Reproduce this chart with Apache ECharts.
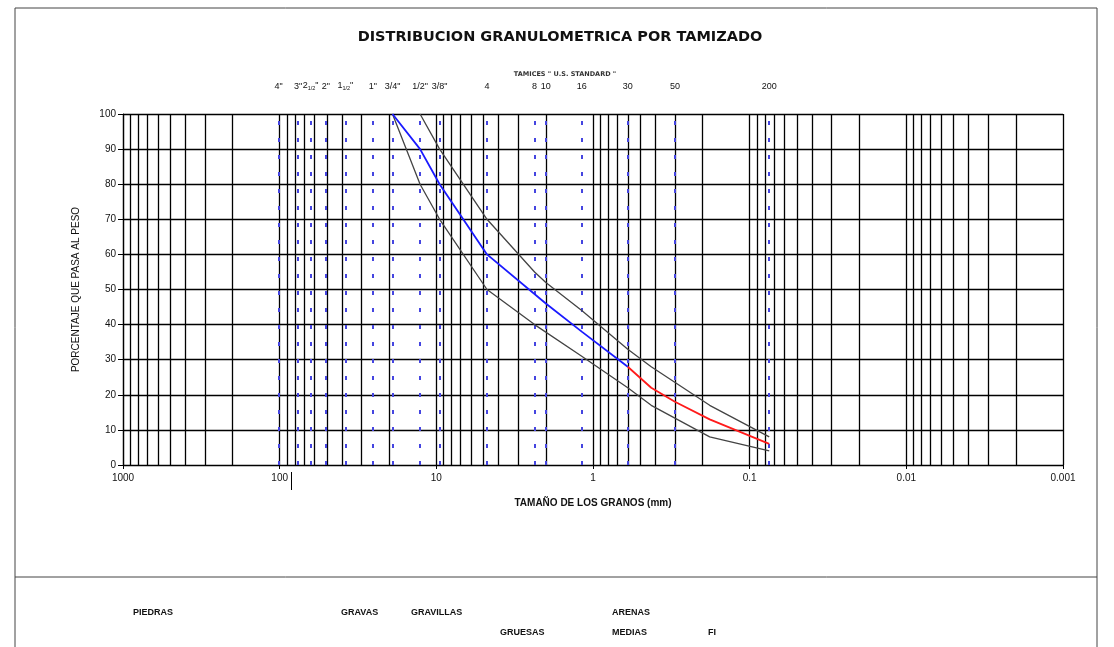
<!DOCTYPE html>
<html>
<head>
<meta charset="utf-8">
<title>Distribucion granulometrica por tamizado</title>
<script src="https://cdn.jsdelivr.net/npm/echarts@6/dist/echarts.min.js"></script>
<style>
  html, body { margin: 0; padding: 0; background: #fff; }
  #chart { width: 1114px; height: 647px; }
</style>
</head>
<body>
<div id="chart"></div>
<script>
// tamices U.S. standard (abertura en mm) y su nombre
const tamizMm = [101.6, 76.2, 63.5, 50.8, 38.1, 25.4, 19.05, 12.7, 9.525, 4.75, 2.36, 2.0, 1.18, 0.6, 0.3, 0.075]
const tamizNombre = ['4"', '3"', '2{f|1/2}"', '2"', '1{f|1/2}"', '1"', '3/4"', '1/2"', '3/8"', '4', '8', '10', '16', '30', '50', '200']

// curva de la muestra (azul hasta el tamiz 30, roja despues)
const muestraMm = [19.05, 12.7, 9.525, 4.75, 2.0, 1.18, 0.6, 0.425, 0.3, 0.18, 0.075]
const muestraPasa = [100, 90, 80, 60, 46, 38, 28, 22, 18, 13, 6]
const corte = 6

// limites de la especificacion
const superiorMm = [12.7, 9.525, 4.75, 2.36, 2.0, 1.18, 0.6, 0.425, 0.18, 0.075]
const superiorPasa = [100, 90, 70, 55, 52, 44, 33, 28, 17, 8]
const inferiorMm = [19.05, 12.7, 9.525, 4.75, 2.36, 1.18, 0.6, 0.425, 0.18, 0.075]
const inferiorPasa = [100, 80, 70, 50, 40, 31, 22, 17, 8, 4]

// rejilla logaritmica
const decadas = [0.001, 0.01, 0.1, 1, 10, 100]
const factores = [1, 2, 3, 4, 5, 6, 7, 8, 9]

const FONT = 'Liberation Sans'
const ROTULO = 'bold 9px "Liberation Sans"'

const pares = (xs, ys) => xs.map((x, i) => [x, ys[i]])
const vertical = v => [{ coord: [v, 0] }, { coord: [v, 100] }]

const valoresRejilla = [1000]
decadas.forEach(d => factores.forEach(f => valoresRejilla.push(+(d * f).toPrecision(3))))

const chart = echarts.init(document.getElementById('chart'))

const option = {
  animation: false,
  backgroundColor: '#fff',
  title: [
    {
      text: 'DISTRIBUCION GRANULOMETRICA POR TAMIZADO',
      left: 555,
      textAlign: 'center',
      top: 25,
      textStyle: { fontFamily: 'DejaVu Sans', fontWeight: 'bold', fontSize: 14.5, color: '#111' }
    },
    {
      text: 'TAMICES " U.S. STANDARD "',
      left: 560,
      textAlign: 'center',
      top: 66,
      textStyle: { fontFamily: 'DejaVu Sans', fontWeight: 'bold', fontSize: 6.5, color: '#333' }
    }
  ],
  grid: { left: 123, right: 51, top: 114, bottom: 182 },
  xAxis: {
    type: 'log',
    logBase: 10,
    min: 0.001,
    max: 1000,
    splitNumber: 6,
    inverse: true,
    name: 'TAMAÑO DE LOS GRANOS (mm)',
    nameLocation: 'middle',
    nameGap: 33,
    nameTextStyle: { fontFamily: FONT, fontSize: 10, fontWeight: 'bold', color: '#111' },
    axisLine: { lineStyle: { color: '#000', width: 1.2 } },
    axisTick: { show: true, length: 4, lineStyle: { color: '#000' } },
    axisLabel: {
      fontFamily: FONT,
      fontSize: 10,
      color: '#111',
      margin: 8,
      formatter: v => String(+(+v).toPrecision(3))
    },
    splitLine: { show: false }
  },
  yAxis: {
    type: 'value',
    min: 0,
    max: 100,
    interval: 10,
    name: 'PORCENTAJE QUE PASA AL PESO',
    nameLocation: 'middle',
    nameGap: 42,
    nameTextStyle: { fontFamily: FONT, fontSize: 10, color: '#111' },
    axisLine: { show: true, lineStyle: { color: '#000', width: 1.2 } },
    axisTick: { show: true, length: 5, lineStyle: { color: '#000' } },
    axisLabel: { fontFamily: FONT, fontSize: 10, color: '#111', margin: 7 },
    splitLine: { show: true, lineStyle: { color: '#000', width: 1.3 } }
  },
  series: [
    {
      name: 'rejilla',
      type: 'line',
      data: [],
      silent: true,
      z: 1,
      markLine: {
        silent: true,
        symbol: ['none', 'none'],
        label: { show: false },
        lineStyle: { color: '#000', width: 1.3, type: 'solid' },
        data: valoresRejilla.map(vertical)
      }
    },
    {
      name: 'tamices',
      type: 'line',
      data: [],
      silent: true,
      z: 2,
      markLine: {
        silent: true,
        symbol: ['none', 'none'],
        lineStyle: { color: '#4545e0', width: 2, type: [4, 13] },
        label: {
          show: true,
          position: 'end',
          distance: 23,
          fontFamily: FONT,
          fontSize: 9,
          color: '#111',
          formatter: p => tamizNombre[p.dataIndex],
          rich: { f: { fontFamily: FONT, fontSize: 5.5, padding: [4, 0, 0, 0], color: '#111' } }
        },
        data: tamizMm.map(vertical)
      }
    },
    {
      name: 'superior',
      type: 'line',
      data: pares(superiorMm, superiorPasa),
      showSymbol: false,
      z: 5,
      lineStyle: { color: '#444', width: 1.3 }
    },
    {
      name: 'inferior',
      type: 'line',
      data: pares(inferiorMm, inferiorPasa),
      showSymbol: false,
      z: 5,
      lineStyle: { color: '#444', width: 1.3 }
    },
    {
      name: 'muestra',
      type: 'line',
      data: pares(muestraMm.slice(0, corte + 1), muestraPasa.slice(0, corte + 1)),
      showSymbol: false,
      z: 6,
      lineStyle: { color: '#1a1aff', width: 1.8 }
    },
    {
      name: 'muestra finos',
      type: 'line',
      data: pares(muestraMm.slice(corte), muestraPasa.slice(corte)),
      showSymbol: false,
      z: 6,
      lineStyle: { color: '#ff1a1a', width: 1.8 }
    }
  ],
  graphic: [
    { type: 'line', shape: { x1: 15, y1: 8, x2: 1097, y2: 8 }, style: { stroke: '#444', lineWidth: 1 } },
    { type: 'line', shape: { x1: 15, y1: 577, x2: 1097, y2: 577 }, style: { stroke: '#444', lineWidth: 1 } },
    { type: 'line', shape: { x1: 15, y1: 8, x2: 15, y2: 647 }, style: { stroke: '#444', lineWidth: 1 } },
    { type: 'line', shape: { x1: 1097, y1: 8, x2: 1097, y2: 647 }, style: { stroke: '#444', lineWidth: 1 } },
    // marca junto al rotulo 100
    { type: 'line', shape: { x1: 291.5, y1: 472, x2: 291.5, y2: 490 }, style: { stroke: '#000', lineWidth: 1 } },
    { type: 'text', left: 133, top: 608, style: { text: 'PIEDRAS', font: ROTULO, fill: '#111' } },
    { type: 'text', left: 341, top: 608, style: { text: 'GRAVAS', font: ROTULO, fill: '#111' } },
    { type: 'text', left: 411, top: 608, style: { text: 'GRAVILLAS', font: ROTULO, fill: '#111' } },
    { type: 'text', left: 612, top: 608, style: { text: 'ARENAS', font: ROTULO, fill: '#111' } },
    { type: 'text', left: 500, top: 628, style: { text: 'GRUESAS', font: ROTULO, fill: '#111' } },
    { type: 'text', left: 612, top: 628, style: { text: 'MEDIAS', font: ROTULO, fill: '#111' } },
    { type: 'text', left: 708, top: 628, style: { text: 'FI', font: ROTULO, fill: '#111' } }
  ]
}

chart.setOption(option)
</script>
</body>
</html>
